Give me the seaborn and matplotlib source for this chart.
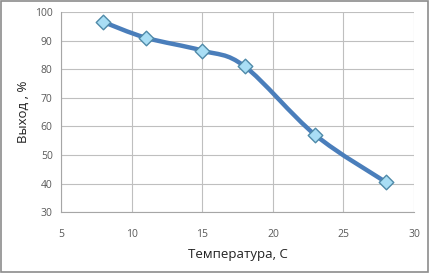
import numpy as np
import pandas as pd
import seaborn as sns
import matplotlib.pyplot as plt
from matplotlib.path import Path
from matplotlib.patches import PathPatch, Rectangle

temperature = [8, 11, 15, 18, 23, 28]
yield_pct = [96.5, 91, 86.5, 81, 57, 40.5]
x_ticks = [5, 10, 15, 20, 25, 30]
y_ticks = [30, 40, 50, 60, 70, 80, 90, 100]

df = pd.DataFrame({'t': temperature, 'y': yield_pct})

sns.set_style('white')
plt.rcParams['font.family'] = ['Open Sans', 'DejaVu Sans']

fig = plt.figure(figsize=(4.3, 2.73), dpi=100)
ax = fig.add_axes([0.142, 0.223, 0.821, 0.733])

# smoothed line like Excel (Catmull-Rom as cubic Bezier segments)
pts = df[['t', 'y']].to_numpy(dtype=float)
verts = [pts[0]]
codes = [Path.MOVETO]
for i in range(len(pts) - 1):
    p0 = pts[max(i - 1, 0)]
    p1 = pts[i]
    p2 = pts[i + 1]
    p3 = pts[min(i + 2, len(pts) - 1)]
    verts += [p1 + (p2 - p0) / 6, p2 - (p3 - p1) / 6, p2]
    codes += [Path.CURVE4] * 3
ax.add_patch(PathPatch(Path(verts, codes), fill=False, edgecolor='#4a7ebb',
                       lw=3.2, capstyle='round', joinstyle='round', zorder=3))

sns.scatterplot(data=df, x='t', y='y', ax=ax, marker='D', s=55,
                color='#a9def5', edgecolor='#4f8aa8', linewidth=1.0, zorder=4)

ax.set_xlim(5, 30)
ax.set_ylim(30, 100)
ax.set_xticks(x_ticks)
ax.set_yticks(y_ticks)
ax.grid(True, color='#bfbfbf', lw=0.8)
ax.set_axisbelow(True)
for s in ['top', 'right']:
    ax.spines[s].set_visible(False)
for s in ['left', 'bottom']:
    ax.spines[s].set_color('#a6a6a6')
    ax.spines[s].set_linewidth(0.8)
ax.tick_params(axis='both', labelsize=7.5, colors='#595959', length=3,
               width=0.8, direction='out', pad=3)
ax.tick_params(axis='both', color='#a6a6a6')
ax.tick_params(axis='x', pad=12, length=0)
ax.set_xlabel('Температура, С', fontsize=9.5, color='#222222', labelpad=6)
ax.set_ylabel('Выход , %', fontsize=9.5, color='#222222', labelpad=4)

fig.patches.append(Rectangle((0.003, 0.005), 0.993, 0.99, transform=fig.transFigure,
                             fill=False, edgecolor='#8c8c8c', lw=1.2))

fig.savefig('out.png', dpi=100)
